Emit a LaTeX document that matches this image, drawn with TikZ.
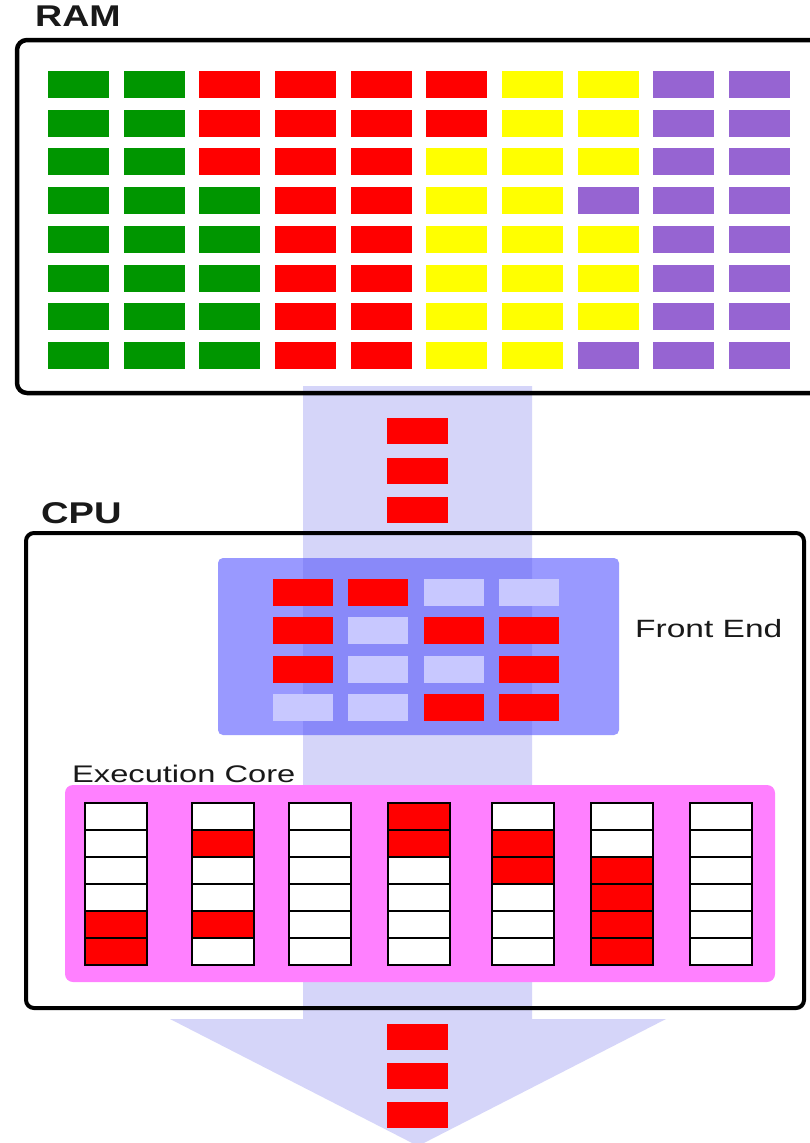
\documentclass[tikz,border=0pt]{standalone}
\usepackage{fontspec}
\setmainfont{Liberation Sans}
\usepackage{graphicx}
\definecolor{ramG}{RGB}{0,150,0}
\definecolor{ramR}{RGB}{255,0,0}
\definecolor{ramY}{RGB}{255,255,0}
\definecolor{ramP}{RGB}{150,100,210}
\definecolor{feL}{RGB}{200,200,255}
\definecolor{feR}{RGB}{255,0,0}
\definecolor{feBox}{RGB}{153,153,255}
\definecolor{exPink}{RGB}{255,128,255}
\definecolor{exW}{RGB}{255,255,255}
\definecolor{exR}{RGB}{255,0,0}
\definecolor{bandC}{RGB}{90,90,235}
\definecolor{lblC}{RGB}{25,25,25}
\tikzset{
  frame/.style={draw=black, line width=4.5pt, rounded corners=10pt},
  band/.style={fill=bandC, fill opacity=0.25},
  packet/.style={fill=ramR},
  cellbox/.style={draw=black, line width=2.5pt},
  lbl/.style={anchor=base west, inner sep=0pt, text=lblC},
}
\begin{document}
\begin{tikzpicture}[x=1pt,y=-1pt]
\clip (0,0) rectangle (810,1143);
\fill[white] (0,0) rectangle (810,1143);
% container fills
\fill[white, rounded corners=10pt] (17,40) rectangle (840,393);
\fill[white, rounded corners=8pt] (26,533) rectangle (804,1008);
\fill[feBox, rounded corners=5pt] (218,558) rectangle (619,735);
% data flow band
\fill[band] (303,386) -- (532,386) -- (532,1019) -- (666,1019) -- (418,1146) -- (170,1019) -- (303,1019) -- cycle;
% execution core background (above the band)
\fill[exPink, rounded corners=8pt] (65,785) rectangle (775,982);
% RAM contents
\foreach \row [count=\r from 0] in {{G,G,R,R,R,R,Y,Y,P,P},{G,G,R,R,R,R,Y,Y,P,P},{G,G,R,R,R,Y,Y,Y,P,P},{G,G,G,R,R,Y,Y,P,P,P},{G,G,G,R,R,Y,Y,Y,P,P},{G,G,G,R,R,Y,Y,Y,P,P},{G,G,G,R,R,Y,Y,Y,P,P},{G,G,G,R,R,Y,Y,P,P,P}}{
  \foreach \c [count=\k from 0] in \row {
    \fill[ram\c] ({48+75.67*\k},{71+38.7*\r}) rectangle ++(61,27);
  }
}
% transfer packets
\foreach \y in {418,458,497} \fill[packet] (387,\y) rectangle ++(61,26);
\foreach \y in {1024,1063,1102} \fill[packet] (387,\y) rectangle ++(61,26);
% front end
\foreach \row [count=\r from 0] in {{R,R,L,L},{R,L,R,R},{R,L,L,R},{L,L,R,R}}{
  \foreach \c [count=\k from 0] in \row {
    \fill[fe\c] ({273+75.3*\k},{579+38.3*\r}) rectangle ++(60,27);
  }
}
% execution core
\foreach \pat [count=\k from 0] in {{W,W,W,W,R,R},{W,R,W,W,R,W},{W,W,W,W,W,W},{R,R,W,W,W,W},{W,R,R,W,W,W},{W,W,R,R,R,R},{W,W,W,W,W,W}}{
  \pgfmathsetmacro\cx{{85,192,289,388,492,591,690}[\k]}
  \foreach \c [count=\r from 0] in \pat {
    \filldraw[fill=ex\c, cellbox] (\cx,{803+27*\r}) rectangle ++(62,27);
  }
}
% frames
\draw[frame] (17,40) rectangle (840,393);
\draw[frame, line width=4pt, rounded corners=8pt] (26,533) rectangle (804,1008);
% labels
\node[lbl] (ram) at (35,27) {\scalebox{1.25}[1]{\fontsize{30}{30}\selectfont\bfseries RAM}};
\node[lbl] (cpu) at (41,523) {\scalebox{1.27}[1]{\fontsize{30}{30}\selectfont\bfseries CPU}};
\node[lbl] (fe) at (635,637) {\scalebox{1.34}[1]{\fontsize{25}{25}\selectfont Front End}};
\node[lbl] (ex) at (72,782) {\scalebox{1.36}[1]{\fontsize{24}{24}\selectfont Execution Core}};
\end{tikzpicture}
\end{document}
